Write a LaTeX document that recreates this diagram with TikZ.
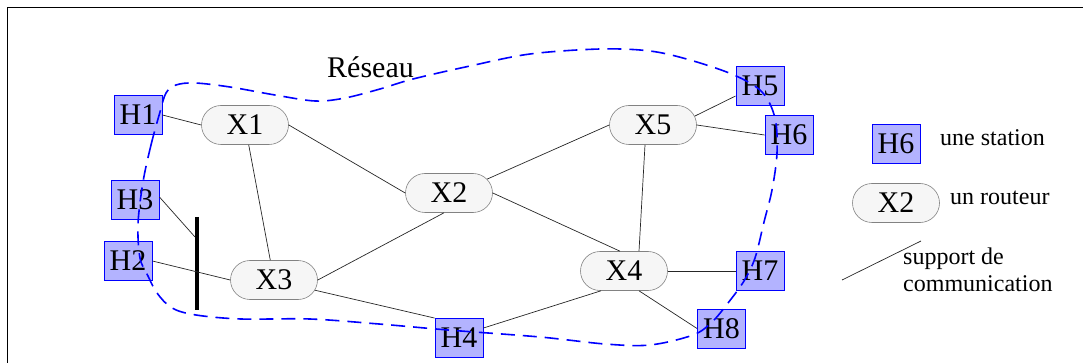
\documentclass[tikz,border=0pt]{standalone}
\usepackage{fontspec}
\setmainfont{Liberation Serif}
\usetikzlibrary{shapes.misc}
\definecolor{stationfill}{RGB}{179,179,255}
\definecolor{routerfill}{RGB}{246,246,246}
\definecolor{routerdraw}{RGB}{130,130,130}
\begin{document}
\begin{tikzpicture}[x=1pt,y=-1pt,
  station/.style={draw=blue, line width=0.9pt, fill=stationfill, minimum width=48pt, minimum height=39pt, inner sep=0pt, font=\fontsize{30}{32}\selectfont},
  router/.style={draw=routerdraw, line width=0.6pt, fill=routerfill, rounded rectangle, minimum width=87pt, minimum height=39pt, inner sep=0pt, font=\fontsize{30}{32}\selectfont},
  link/.style={draw=black!85, line width=0.7pt},
  legendtext/.style={font=\fontsize{24}{27}\selectfont, anchor=base west, inner sep=0pt},
  reseau/.style={draw=blue, line width=1.6pt, dash pattern=on 14pt off 8pt},
  frame/.style={draw=black, line width=1pt},
  bus/.style={draw=black, line width=4pt}
]
\useasboundingbox (0,0) rectangle (1083,363);
% frame
\coordinate (F1) at (1083,8);
\coordinate (F2) at (7,8);
\coordinate (F3) at (7,363);
\draw[frame] (F1) -- (F2) -- (F3);

% stations
\node[station] (H1) at (138,115) {H1};
\node[station] (H3) at (135,200) {H3};
\node[station] (H2) at (128,261) {H2};
\node[station] (H4) at (459,338) {H4};
\node[station] (H5) at (760,86) {H5};
\node[station] (H6) at (789,135) {H6};
\node[station] (H7) at (760,271) {H7};
\node[station] (H8) at (721.5,328.5) {H8};
% routers
\node[router] (X1) at (245,125) {X1};
\node[router] (X2) at (449,193) {X2};
\node[router] (X3) at (274,280) {X3};
\node[router] (X4) at (624,271) {X4};
\node[router] (X5) at (653,125) {X5};

% bus
\coordinate (B1) at (197,217);
\coordinate (B2) at (197,310);
\coordinate (BJ) at (195,237);
\draw[bus] (B1) -- (B2);

% links
\draw[link] (H1.east) -- (X1.west);
\draw[link] (X1.east) -- (X2.west);
\draw[link] (X1) -- (X3);
\draw[link] (X3.east) -- ([xshift=-5pt]X2.south);
\draw[link] (X3.-14) -- (H4.north west);
\draw[link] (X2.20) -- (X5.west);
\draw[link] (X2.east) -- ([xshift=-4pt]X4.north);
\draw[link] ([xshift=-8pt]X5.south) -- ([xshift=15pt]X4.north);
\draw[link] (X5.12) -- ([yshift=-10pt]H5.west);
\draw[link] (X5.east) -- (H6.west);
\draw[link] (X4.east) -- (H7.west);
\draw[link] ([xshift=15pt]X4.south) -- (H8.west);
\draw[link] ([xshift=-23pt]X4.south) -- ([yshift=10pt]H4.east);
\draw[link] ([yshift=3pt]H3.east) -- (BJ);
\draw[link] (H2.east) -- (X3.west);

% network boundary
\draw[reseau] plot[smooth cycle, tension=0.55] coordinates {
(143,182) (151,145) (160,112) (166,93) (176,85) (195,83) (230,87) (275,95) (315,101) (345,98) (380,89) (413,79) (470,66) (530,54) (600,49) (650,51) (690,60) (734,75) (762,92) (775,118) (777,153) (772,190) (764,222) (755,258) (744,281) (728,303) (712,322) (693,335) (650,345) (605,344) (540,337) (448,330) (379,324) (310,319) (241,319) (196,315) (172,308) (157,293) (148,276) (140,258) (138,224)};
\node[font=\fontsize{30}{32}\selectfont, anchor=base west, inner sep=0pt] (RES) at (327,78) {Réseau};

% legend
\node[station] (LH6) at (896,144) {H6};
\node[legendtext] (L1) at (940,146) {une station};
\node[router] (LX2) at (896,203) {X2};
\node[legendtext] (L2) at (950,205) {un routeur};
\coordinate (LA) at (842,280);
\coordinate (LB) at (921,241);
\draw[link] (LA) -- (LB);
\node[legendtext] (L3) at (903,264) {support de};
\node[legendtext] (L4) at (903,291) {communication};
\end{tikzpicture}
\end{document}
